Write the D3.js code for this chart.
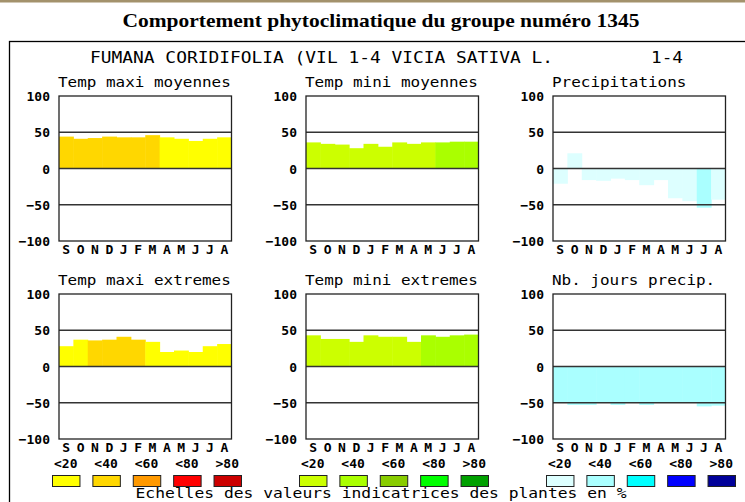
<!DOCTYPE html>
<html><head><meta charset="utf-8">
<script src="https://cdn.jsdelivr.net/npm/d3@7"></script>
<style>
html,body{margin:0;padding:0;background:#fff;}
svg{display:block;}
</style></head>
<body><svg id="c" width="745" height="502"></svg>
<script>
const months = ["S","O","N","D","J","F","M","A","M","J","J","A"];
const yTicks = [-100,-50,0,50,100];
const legendLabels = ["<20","<40","<60","<80",">80"];

const tmaxScale = ["#ffff00","#ffd700","#ff9900","#ff0000","#cc0000"];
const tminScale = ["#ccff00","#aaff00","#88cc00","#00ff00","#00a000"];
const precScale = ["#ddffff","#aaffff","#00ffff","#0000ff","#000099"];

const tmaxMoy    = [44, 41, 42, 44, 43, 43, 46, 43, 41, 38, 41, 43];
const tmaxMoyCls = [1, 1, 1, 1, 1, 1, 1, 0, 0, 0, 0, 0];
const tminMoy    = [36, 34, 33, 28, 34, 30, 36, 34, 36, 36, 37, 37];
const tminMoyCls = [0, 0, 0, 0, 0, 0, 0, 0, 0, 1, 1, 1];
const precip     = [-21, 21, -16, -17, -14, -16, -23, -16, -41, -45, -54, -43];
const precipCls  = [0, 0, 0, 0, 0, 0, 0, 0, 0, 0, 1, 0];
const tmaxExt    = [28, 37, 36, 37, 41, 37, 34, 20, 22, 20, 28, 31];
const tmaxExtCls = [0, 0, 1, 1, 1, 1, 0, 0, 0, 0, 0, 0];
const tminExt    = [43, 38, 38, 34, 43, 41, 41, 34, 43, 41, 43, 44];
const tminExtCls = [0, 0, 0, 0, 0, 0, 0, 0, 1, 1, 1, 1];
const nbJours    = [-50, -53, -53, -50, -53, -50, -53, -50, -50, -50, -55, -54];
const nbJoursCls = [1, 1, 1, 1, 1, 1, 1, 1, 1, 1, 1, 1];

const panels = [
  {title:"Temp maxi moyennes", vals:tmaxMoy, cls:tmaxMoyCls, pal:tmaxScale, col:0, row:0},
  {title:"Temp mini moyennes", vals:tminMoy, cls:tminMoyCls, pal:tminScale, col:1, row:0},
  {title:"Precipitations", vals:precip, cls:precipCls, pal:precScale, col:2, row:0},
  {title:"Temp maxi extremes", vals:tmaxExt, cls:tmaxExtCls, pal:tmaxScale, col:0, row:1},
  {title:"Temp mini extremes", vals:tminExt, cls:tminExtCls, pal:tminScale, col:1, row:1},
  {title:"Nb. jours precip.", vals:nbJours, cls:nbJoursCls, pal:precScale, col:2, row:1}
];

const MONO = "'DejaVu Sans Mono', monospace";
const svg = d3.select("#c");

// top band
svg.append("rect").attr("x",0).attr("y",0).attr("width",745).attr("height",2.5).attr("fill","#a3926c");

// main title
svg.append("text").attr("x",381).attr("y",27).attr("text-anchor","middle")
  .attr("font-family","'Liberation Serif', 'Times New Roman', serif").attr("font-weight","bold")
  .attr("font-size",19).attr("textLength",517).attr("lengthAdjust","spacingAndGlyphs")
  .attr("fill","#000").text("Comportement phytoclimatique du groupe numéro 1345");

// outer frame
svg.append("rect").attr("x",9.5).attr("y",41.5).attr("width",760).attr("height",500)
  .attr("fill","none").attr("stroke","#000").attr("stroke-width",1.3);

// header
svg.append("text").attr("x",90).attr("y",63).attr("font-family",MONO).attr("font-size",15)
  .attr("textLength",463).attr("lengthAdjust","spacingAndGlyphs").attr("fill","#000")
  .text("FUMANA CORIDIFOLIA (VIL 1-4 VICIA SATIVA L.");
svg.append("text").attr("x",651).attr("y",63).attr("font-family",MONO).attr("font-size",15)
  .attr("textLength",32).attr("lengthAdjust","spacingAndGlyphs").attr("fill","#000").text("1-4");

const lefts = [59, 306, 553];
const W = 172.5, H = 145;
const tops = [96, 294];

panels.forEach(p => {
  const x0 = lefts[p.col], y0 = tops[p.row];
  const g = svg.append("g");
  const x = d3.scaleBand().domain(d3.range(12)).range([x0, x0 + W]).padding(0);
  const y = d3.scaleLinear().domain([-100, 100]).range([y0 + H, y0]);

  g.append("text").attr("x", x0 - 1).attr("y", y0 - 9).attr("font-family", MONO).attr("font-size", 14)
    .attr("textLength", p.title.length * 9.6).attr("lengthAdjust","spacingAndGlyphs")
    .attr("fill","#000").text(p.title);

  g.selectAll("rect.bar").data(p.vals).join("rect").attr("class","bar")
    .attr("x", (d,i) => x(i)).attr("width", x.bandwidth() + 0.5)
    .attr("y", d => y(Math.max(0, d))).attr("height", d => Math.abs(y(d) - y(0)))
    .attr("fill", (d,i) => p.pal[p.cls[i]]);

  g.selectAll("line.grid").data([50, 0, -50]).join("line").attr("class","grid")
    .attr("x1", x0).attr("x2", x0 + W).attr("y1", d => y(d)).attr("y2", d => y(d))
    .attr("stroke", "#333").attr("stroke-width", d => d === 0 ? 1.6 : 1.4);

  g.append("rect").attr("x", x0).attr("y", y0).attr("width", W).attr("height", H)
    .attr("fill","none").attr("stroke","#222").attr("stroke-width",1.3);

  const ya = g.append("g").attr("transform", `translate(${x0},0)`)
    .call(d3.axisLeft(y).tickValues(yTicks).tickSize(0).tickPadding(9).tickFormat(d3.format("d")));
  ya.select(".domain").remove();
  ya.selectAll("text").attr("font-family", MONO).attr("font-weight","bold").attr("font-size",13)
    .attr("fill","#000").attr("dy","0.35em");

  const xa = g.append("g").attr("transform", `translate(0,${y0 + H})`)
    .call(d3.axisBottom(x).tickSize(0).tickPadding(4).tickFormat(i => months[i]));
  xa.select(".domain").remove();
  xa.selectAll("text").attr("font-family", MONO).attr("font-weight","bold").attr("font-size",13)
    .attr("fill","#000");
});

// legends
const pals = [tmaxScale, tminScale, precScale];
pals.forEach((pal, gi) => {
  const gx = lefts[gi] - 7;
  const lx = d3.scaleBand().domain(d3.range(5)).range([gx, gx + 5 * 37.8]).paddingInner(0.32).paddingOuter(0);
  const g = svg.append("g");
  g.selectAll("text").data(legendLabels).join("text")
    .attr("x", (d,i) => lx(i) + lx.bandwidth()/2).attr("y", 468).attr("text-anchor","middle")
    .attr("font-family", MONO).attr("font-weight","bold").attr("font-size",13).attr("fill","#000")
    .text(d => d);
  g.selectAll("rect").data(pal).join("rect")
    .attr("x", (d,i) => lx(i) + 0.5).attr("y", 475.5).attr("width", lx.bandwidth()).attr("height", 11)
    .attr("fill", d => d).attr("stroke","#222").attr("stroke-width",1);
});

svg.append("text").attr("x",381).attr("y",498).attr("text-anchor","middle")
  .attr("font-family", MONO).attr("font-size",14).attr("textLength",491).attr("lengthAdjust","spacingAndGlyphs")
  .attr("fill","#000").text("Echelles des valeurs indicatrices des plantes en %");
</script></body></html>
